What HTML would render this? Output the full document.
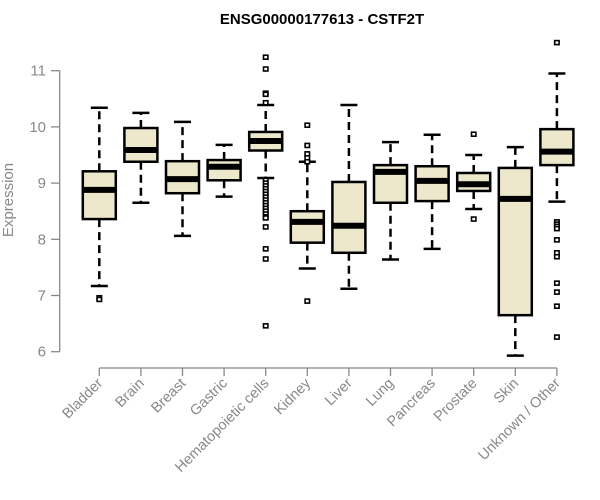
<!DOCTYPE html>
<html><head><meta charset="utf-8"><style>
body{margin:0;background:#fff;}
svg{display:block;font-family:"Liberation Sans",Arial,sans-serif;}
</style></head><body>
<svg id="chart" width="600" height="500">
<text x="322" y="24" text-anchor="middle" font-weight="bold" font-size="15" fill="#000">ENSG00000177613 - CSTF2T</text>
<text transform="translate(13,200) rotate(-90)" text-anchor="middle" font-size="15" fill="#888">Expression</text>
<g id="plot"></g>
</svg>
<script>
const categories=["Bladder","Brain","Breast","Gastric","Hematopoietic cells","Kidney","Liver","Lung","Pancreas","Prostate","Skin","Unknown / Other"];
const lowWhisker=[7.17,8.65,8.06,8.76,9.09,7.48,7.12,7.64,7.83,8.54,5.93,8.67];
const q1=[8.36,9.38,8.82,9.05,9.58,7.94,7.76,8.65,8.68,8.86,6.65,9.32];
const medians=[8.88,9.59,9.07,9.29,9.75,8.31,8.24,9.2,9.04,8.98,8.72,9.56];
const q3=[9.21,9.98,9.39,9.41,9.91,8.5,9.02,9.32,9.3,9.18,9.27,9.96];
const highWhisker=[10.34,10.25,10.09,9.68,10.39,9.38,10.39,9.73,9.86,9.5,9.64,10.95];
const outliers=[[6.96,6.93],[],[],[],[11.24,11.03,10.6,10.58,10.43,9.05,9.0,8.95,8.9,8.85,8.8,8.75,8.7,8.65,8.6,8.55,8.5,8.45,8.4,8.38,8.22,7.83,7.65,6.46],[10.03,9.67,9.52,9.45,9.38,6.9],[],[],[],[9.87,8.36],[],[11.5,8.31,8.27,8.23,8.19,7.99,7.76,7.69,7.22,7.06,6.81,6.26]];
const yTicks=[6,7,8,9,10,11];
const NS="http://www.w3.org/2000/svg";
const g=document.getElementById('plot');
function y(v){return 351.7-(v-6)*56.2;}
function x(i){return 99.3+41.6*i;}
function mk(t,a,p){const e=document.createElementNS(NS,t);for(const k in a)e.setAttribute(k,a[k]);(p||g).appendChild(e);return e;}
// y axis
let ax=mk('line',{x1:59.7,x2:59.7,y1:y(11),y2:y(6),stroke:'#888','stroke-width':1.3});


yTicks.forEach(t=>{
 const l=mk('line',{x1:51,x2:59.7,y1:y(t),y2:y(t),stroke:'#888','stroke-width':1.3});
 
 
 const tx=mk('text',{x:46,y:y(t)+5,'text-anchor':'end','font-size':15,fill:'#888'});
 tx.textContent=t;
 
 
});
let xa=mk('line',{x1:x(0),x2:x(11),y1:368,y2:368,stroke:'#888','stroke-width':1.3});


categories.forEach((c,i)=>{
 const cx=x(i);
 const t=mk('line',{x1:cx,x2:cx,y1:368,y2:376,stroke:'#888','stroke-width':1.3});
 
 
 const lb=mk('text',{transform:`translate(${cx+4},${384}) rotate(-45)`,'text-anchor':'end','font-size':14.5,fill:'#888'});
 lb.textContent=c;
 
 
 const bg=mk('g',{});
 
 
 const st={stroke:'#000','stroke-width':2.5,'stroke-dasharray':'8,5'};
 mk('line',Object.assign({x1:cx,x2:cx,y1:y(q3[i]),y2:y(highWhisker[i])},st),bg);
 mk('line',Object.assign({x1:cx,x2:cx,y1:y(q1[i]),y2:y(lowWhisker[i])},st),bg);
 mk('line',{x1:cx-8.5,x2:cx+8.5,y1:y(highWhisker[i]),y2:y(highWhisker[i]),stroke:'#000','stroke-width':2.5},bg);
 mk('line',{x1:cx-8.5,x2:cx+8.5,y1:y(lowWhisker[i]),y2:y(lowWhisker[i]),stroke:'#000','stroke-width':2.5},bg);
 mk('rect',{x:cx-16.5,y:y(q3[i]),width:33,height:y(q1[i])-y(q3[i]),fill:'#ede7cc',stroke:'#000','stroke-width':2.5},bg);
 mk('line',{x1:cx-16.5,x2:cx+16.5,y1:y(medians[i]),y2:y(medians[i]),stroke:'#000','stroke-width':6},bg);
 outliers[i].forEach(v=>{
  const o=mk('rect',{x:cx-2.2,y:y(v)-2,width:4.4,height:4,fill:'#fff',stroke:'#000','stroke-width':1.6},bg);
  
  
 });
});
</script>
</body></html>
